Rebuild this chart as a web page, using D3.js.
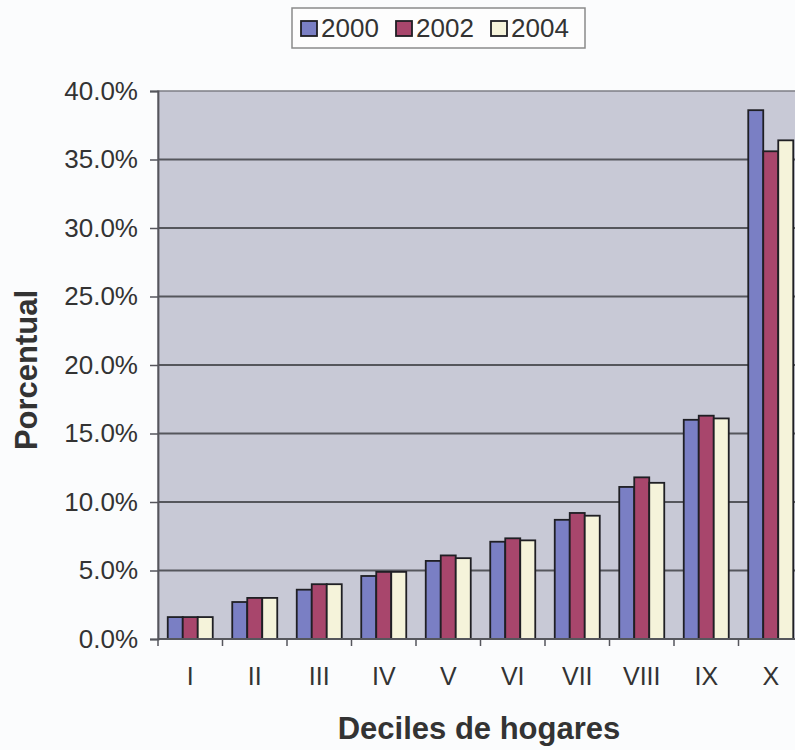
<!DOCTYPE html>
<html>
<head>
<meta charset="utf-8">
<script src="https://cdn.jsdelivr.net/npm/d3@7"></script>
<style>
  html, body { margin: 0; padding: 0; background: #fbfcfd; }
  svg { display: block; }
  text { font-family: "Liberation Sans", Arial, sans-serif; fill: #333; }
</style>
</head>
<body>
<svg id="chart" width="795" height="750"></svg>
<script>
// Income share by household decile
const deciles = ["I", "II", "III", "IV", "V", "VI", "VII", "VIII", "IX", "X"];
const years = ["2000", "2002", "2004"];
const share2000 = [1.6, 2.7, 3.6, 4.6, 5.7, 7.1, 8.7, 11.1, 16.0, 38.6];
const share2002 = [1.6, 3.0, 4.0, 4.9, 6.1, 7.35, 9.2, 11.8, 16.3, 35.6];
const share2004 = [1.6, 3.0, 4.0, 4.9, 5.9, 7.2, 9.0, 11.4, 16.1, 36.4];
const yTicks = [0, 5, 10, 15, 20, 25, 30, 35, 40];
const colors = ["#7a7fc4", "#a8466c", "#f5f3da"];

const seriesValues = [share2000, share2002, share2004];
const rows = deciles.map((d, i) => ({
  decile: d,
  values: years.map((y, j) => ({ year: y, value: seriesValues[j][i] }))
}));

const svg = d3.select("#chart");
const plot = { left: 158, top: 91, right: 803, bottom: 639 };

const x = d3.scaleBand().domain(deciles).range([plot.left, plot.right])
  .paddingInner(0).paddingOuter(0);
const inner = d3.scaleBand().domain(years)
  .range([0, x.bandwidth()]).paddingInner(0).paddingOuter(0.65);
const y = d3.scaleLinear().domain([0, 40]).range([plot.bottom, plot.top]);

// plot area background
svg.append("rect")
  .attr("x", plot.left).attr("y", plot.top)
  .attr("width", plot.right - plot.left).attr("height", plot.bottom - plot.top)
  .attr("fill", "#c8c9d6").attr("stroke", "#7d7d85").attr("stroke-width", 1.5);

// horizontal gridlines
svg.append("g").selectAll("line")
  .data(yTicks.filter(t => t > 0 && t < 40))
  .join("line")
  .attr("x1", plot.left).attr("x2", plot.right)
  .attr("y1", d => y(d)).attr("y2", d => y(d))
  .attr("stroke", "#55565c").attr("stroke-width", 1.8);

// bars
const groups = svg.append("g").selectAll("g")
  .data(rows).join("g")
  .attr("transform", d => `translate(${x(d.decile)},0)`);
groups.selectAll("rect")
  .data(d => d.values).join("rect")
  .attr("x", d => inner(d.year))
  .attr("width", inner.bandwidth())
  .attr("y", d => y(d.value))
  .attr("height", d => y(0) - y(d.value))
  .attr("fill", (d, i) => colors[i])
  .attr("stroke", "#1f1f24").attr("stroke-width", 1.8);

// y axis
const yAxis = svg.append("g")
  .attr("transform", `translate(${plot.left},0)`)
  .call(d3.axisLeft(y).tickValues(yTicks).tickSize(8).tickPadding(12)
    .tickFormat(d => d.toFixed(1) + "%"));
yAxis.select(".domain").attr("stroke", "#55565c").attr("stroke-width", 1.8);
yAxis.selectAll(".tick line").attr("stroke", "#55565c").attr("stroke-width", 1.5);
yAxis.selectAll(".tick text")
  .attr("font-size", 26).attr("fill", "#3a3a3a")
  .style("font-family", "'Liberation Sans', Arial, sans-serif");

// x axis: category labels with boundary ticks
const xAxis = svg.append("g")
  .attr("transform", `translate(0,${plot.bottom})`);
xAxis.append("line")
  .attr("x1", plot.left).attr("x2", plot.right)
  .attr("stroke", "#55565c").attr("stroke-width", 1.8);
xAxis.selectAll(".bound")
  .data(deciles).join("line")
  .attr("class", "bound")
  .attr("x1", d => x(d)).attr("x2", d => x(d))
  .attr("y1", 0).attr("y2", 7)
  .attr("stroke", "#55565c").attr("stroke-width", 1.5);
xAxis.selectAll(".lbl")
  .data(deciles).join("text")
  .attr("class", "lbl")
  .attr("x", d => x(d) + x.bandwidth() / 2)
  .attr("y", 46)
  .attr("text-anchor", "middle")
  .attr("font-size", 25).attr("fill", "#3a3a3a")
  .text(d => d);

// axis titles
svg.append("text")
  .attr("x", 479).attr("y", 739)
  .attr("text-anchor", "middle")
  .attr("font-size", 31).attr("font-weight", "bold").attr("fill", "#333")
  .text("Deciles de hogares");
svg.append("text")
  .attr("transform", "translate(37,370) rotate(-90)")
  .attr("text-anchor", "middle")
  .attr("font-size", 31).attr("font-weight", "bold").attr("fill", "#333")
  .text("Porcentual");

// legend
const legend = svg.append("g");
legend.append("rect")
  .attr("x", 292).attr("y", 8).attr("width", 293).attr("height", 40)
  .attr("fill", "#fdfdfd").attr("stroke", "#8a8a8a").attr("stroke-width", 1.5);
const items = legend.selectAll("g.item")
  .data(years).join("g")
  .attr("class", "item")
  .attr("transform", (d, i) => `translate(${301 + i * 95},0)`);
items.append("rect")
  .attr("x", 0).attr("y", 21).attr("width", 16).attr("height", 15)
  .attr("fill", (d, i) => colors[i])
  .attr("stroke", "#1f1f24").attr("stroke-width", 1.8);
items.append("text")
  .attr("x", 20).attr("y", 37)
  .attr("font-size", 26).attr("fill", "#333")
  .text(d => d);
</script>
</body>
</html>
